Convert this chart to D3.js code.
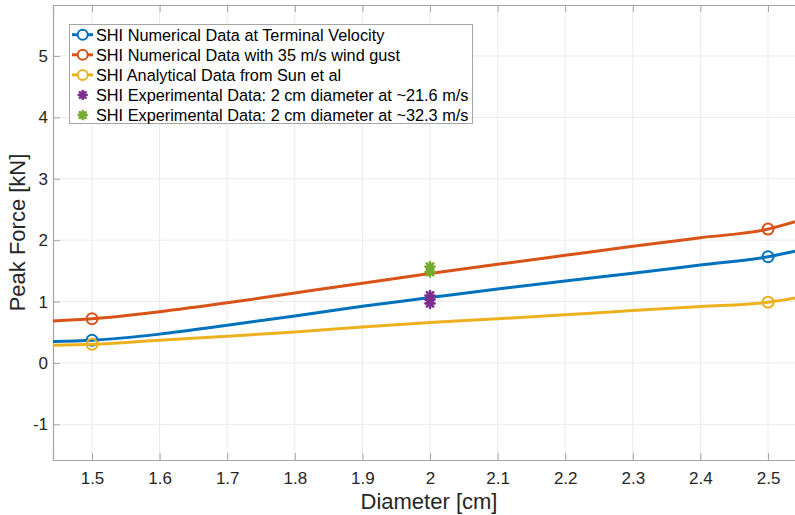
<!DOCTYPE html>
<html lang="en">
<head>
<meta charset="UTF-8">
<title>Peak Force vs Diameter</title>
<script src="https://d3js.org/d3.v7.min.js"></script>
<style>
  body { margin: 0; background: #fff; }
  svg { font-family: "Liberation Sans", Arial, Helvetica, sans-serif; }
  .tick-label { font-size: 17px; fill: #262626; }
  .axis-title { font-size: 22px; fill: #262626; }
  .legend text { font-size: 16.3px; fill: #000; }
</style>
</head>
<body>
<svg id="chart" width="795" height="515"></svg>
<script>
// diameter samples [cm]
const diameters = [1.442, 1.5, 1.6, 1.7, 1.8, 1.9, 2.0, 2.1, 2.2, 2.3, 2.4, 2.5, 2.54];
// peak force [kN]
const terminalVelocity = [0.35, 0.37, 0.47, 0.614, 0.765, 0.925, 1.065, 1.205, 1.335, 1.46, 1.595, 1.73, 1.82];
const windGust = [0.684, 0.72, 0.835, 0.98, 1.14, 1.30, 1.456, 1.607, 1.754, 1.90, 2.04, 2.18, 2.30];
const sunAnalytical = [0.29, 0.305, 0.37, 0.435, 0.505, 0.585, 0.66, 0.72, 0.785, 0.855, 0.92, 0.99, 1.06];
const markerDiameters = [1.5, 2.5];

// experimental points at 2 cm
const exp216 = [1.10, 1.03, 0.97];
const exp323 = [1.57, 1.48];

const xTicks = [1.5, 1.6, 1.7, 1.8, 1.9, 2, 2.1, 2.2, 2.3, 2.4, 2.5];
const yTicks = [-1, 0, 1, 2, 3, 4, 5];

const seriesNames = [
  "SHI Numerical Data at Terminal Velocity",
  "SHI Numerical Data with 35 m/s wind gust",
  "SHI Analytical Data from Sun et al",
  "SHI Experimental Data: 2 cm diameter at ~21.6 m/s",
  "SHI Experimental Data: 2 cm diameter at ~32.3 m/s"
];
const colors = ["#0072BD", "#D95319", "#EDB120", "#7E2F8E", "#77AC30"];

const svg = d3.select("#chart");
const m = { left: 53, right: 805, top: 5, bottom: 460 };

const x = d3.scaleLinear().domain([1.4423, 2.5547]).range([m.left, m.right]);
const y = d3.scaleLinear().domain([-1.58, 5.83]).range([m.bottom, m.top]);

svg.append("defs").append("clipPath").attr("id", "plot")
  .append("rect").attr("x", m.left).attr("y", m.top)
  .attr("width", m.right - m.left).attr("height", m.bottom - m.top);

// grid
const grid = svg.append("g").attr("stroke", "#ebebeb").attr("stroke-width", 1);
grid.selectAll(".gx").data(xTicks).enter().append("line")
  .attr("x1", d => x(d)).attr("x2", d => x(d)).attr("y1", m.top).attr("y2", m.bottom);
grid.selectAll(".gy").data(yTicks).enter().append("line")
  .attr("x1", m.left).attr("x2", m.right).attr("y1", d => y(d)).attr("y2", d => y(d));

// axes (MATLAB style: ticks inside, box on)
const axisColor = "#a6a6a6";
const xAxis = svg.append("g").attr("transform", `translate(0,${m.bottom})`)
  .call(d3.axisBottom(x).tickValues(xTicks).tickSize(-7).tickFormat(d => String(d)));
const xTop = svg.append("g").attr("transform", `translate(0,${m.top})`)
  .call(d3.axisTop(x).tickValues(xTicks).tickSize(-7).tickFormat(""));
const yAxis = svg.append("g").attr("transform", `translate(${m.left},0)`)
  .call(d3.axisLeft(y).tickValues(yTicks).tickSize(-7).tickFormat(d => String(d)));
[xAxis, xTop, yAxis].forEach(g => {
  g.select(".domain").attr("stroke", axisColor).attr("stroke-width", 1.2);
  g.selectAll(".tick line").attr("stroke", axisColor);
  g.selectAll(".tick text").attr("class", "tick-label");
});
svg.selectAll(".tick-label").attr("font-family", null).attr("font-size", null);
yAxis.selectAll(".tick text").attr("x", -5);
xAxis.selectAll(".tick text").attr("y", 12);

// axis titles
svg.append("text").attr("class", "axis-title")
  .attr("x", (m.left + m.right) / 2).attr("y", 509).attr("text-anchor", "middle")
  .text("Diameter [cm]");
svg.append("text").attr("class", "axis-title")
  .attr("transform", `translate(25,${(m.top + m.bottom) / 2}) rotate(-90)`)
  .attr("text-anchor", "middle").text("Peak Force [kN]");

// lines
const plot = svg.append("g").attr("clip-path", "url(#plot)");
const lineSeries = [terminalVelocity, windGust, sunAnalytical];
const line = d3.line().x(d => x(d[0])).y(d => y(d[1])).curve(d3.curveMonotoneX);

lineSeries.forEach((vals, i) => {
  const pts = diameters.map((d, j) => [d, vals[j]]);
  plot.append("path").datum(pts)
    .attr("fill", "none").attr("stroke", colors[i]).attr("stroke-width", 3)
    .attr("d", line);
  plot.selectAll(null).data(pts.filter(p => markerDiameters.includes(p[0])))
    .enter().append("circle")
    .attr("cx", d => x(d[0])).attr("cy", d => y(d[1])).attr("r", 5.5)
    .attr("fill", "none").attr("stroke", colors[i]).attr("stroke-width", 2);
});

// star marker (MATLAB '*')
function star(g, cx, cy, color, s) {
  const a = s * 0.72;
  const segs = [[-s, 0, s, 0], [0, -s, 0, s], [-a, -a, a, a], [-a, a, a, -a]];
  segs.forEach(p => g.append("line")
    .attr("x1", cx + p[0]).attr("y1", cy + p[1]).attr("x2", cx + p[2]).attr("y2", cy + p[3])
    .attr("stroke", color).attr("stroke-width", 2.6).attr("stroke-linecap", "round"));
}
exp216.forEach(v => star(plot, x(2), y(v), colors[3], 4.5));
exp323.forEach(v => star(plot, x(2), y(v), colors[4], 4.5));

// legend
const legend = svg.append("g").attr("class", "legend");
legend.append("rect").attr("x", 69.5).attr("y", 24.5).attr("width", 403).attr("height", 99)
  .attr("fill", "#fff").attr("stroke", "#a6a6a6").attr("stroke-width", 1);
seriesNames.forEach((name, i) => {
  const ry = 34.7 + i * 20.1;
  if (i < 3) {
    legend.append("line").attr("x1", 72).attr("x2", 93).attr("y1", ry).attr("y2", ry)
      .attr("stroke", colors[i]).attr("stroke-width", 3);
    legend.append("circle").attr("cx", 82.7).attr("cy", ry).attr("r", 5)
      .attr("fill", "#fff").attr("stroke", colors[i]).attr("stroke-width", 2);
  } else {
    star(legend, 82.7, ry, colors[i], 4);
  }
  legend.append("text").attr("x", 96).attr("y", ry).attr("dy", "0.36em").text(name);
});
</script>
</body>
</html>
